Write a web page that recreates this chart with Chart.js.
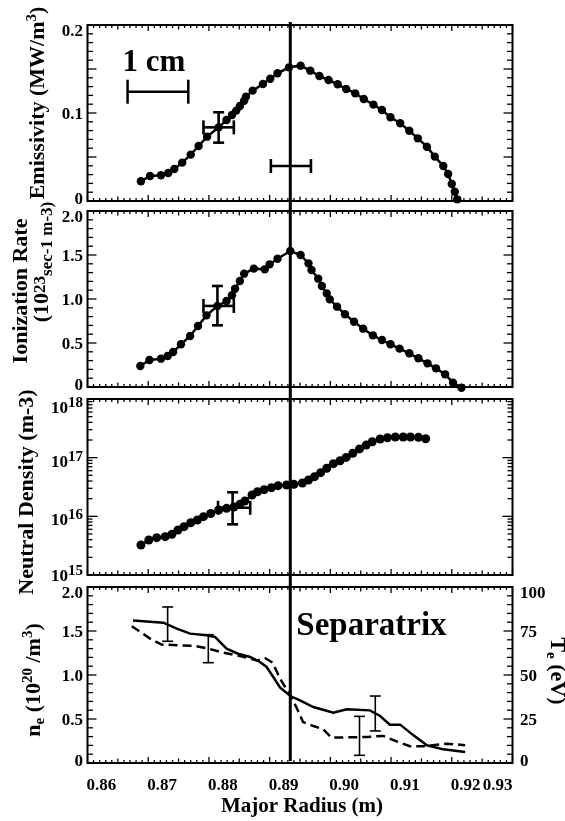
<!DOCTYPE html>
<html>
<head>
<meta charset="utf-8">
<title>Edge profiles vs major radius</title>
<script src="https://cdn.jsdelivr.net/npm/chart.js@4.4.1/dist/chart.umd.min.js"></script>
<style>
  html, body { margin: 0; padding: 0; background: #fff; }
  #page { position: relative; width: 565px; height: 821px; }
  #page canvas { position: absolute; left: 0; top: 0; }
</style>
</head>
<body>
<div id="page">
  <canvas id="emisChart" width="565" height="821"></canvas>
  <canvas id="ionChart" width="565" height="821"></canvas>
  <canvas id="neutralChart" width="565" height="821"></canvas>
  <canvas id="profileChart" width="565" height="821"></canvas>
</div>
<script>
// ---- Data ----
const SEPARATRIX = 0.8934;
const radiusTickValues = [0.86, 0.87, 0.88, 0.89, 0.90, 0.91, 0.92, 0.93];
const radiusTickLabels = ["0.86", "0.87", "0.88", "0.89", "0.90", "0.91", "0.92", "0.93"];

// Emissivity (MW/m3)
const emisRadius = [0.8688, 0.8703, 0.8721, 0.8733, 0.8743, 0.8756, 0.8770, 0.8783, 0.8797, 0.8816,
  0.8829, 0.8838, 0.8845, 0.8851, 0.8858, 0.8861, 0.8872, 0.8889, 0.8901, 0.8913,
  0.8932, 0.8951, 0.8967, 0.8982, 0.8997, 0.9012, 0.9026, 0.9041, 0.9055, 0.9071,
  0.9085, 0.9099, 0.9115, 0.9130, 0.9144, 0.9159, 0.9172, 0.9186, 0.9194, 0.9200,
  0.9205, 0.9209];
const emissivity = [0.0224, 0.0284, 0.0292, 0.0318, 0.0364, 0.0436, 0.0527, 0.0625, 0.0731, 0.0837,
  0.0920, 0.0977, 0.1027, 0.1080, 0.1140, 0.1186, 0.1254, 0.1330, 0.1390, 0.1451,
  0.1519, 0.1538, 0.1481, 0.1420, 0.1375, 0.1326, 0.1273, 0.1223, 0.1159, 0.1095,
  0.1034, 0.0951, 0.0883, 0.0799, 0.0712, 0.0617, 0.0504, 0.0398, 0.0307, 0.0193,
  0.0106, 0.0019];
const emisTickValues = [0, 0.1, 0.2];
const emisTickLabels = ["0", "0.1", "0.2"];
const emisErrorBars = [
  { x: 0.8816, y: 0.0837, xlo: 0.8791, xhi: 0.8841, ylo: 0.0663, yhi: 0.1008 },
  { x: 0.8935, y: 0.0398, xlo: 0.8902, xhi: 0.8968 }
];
const scaleBar = { from: 0.8666, to: 0.8766, y: 0.1242, text: "1 cm" };

// Ionization rate (1e23 /s /m3)
const ionRadius = [0.8687, 0.8702, 0.8721, 0.8732, 0.8741, 0.8754, 0.8769, 0.8782, 0.8796, 0.8814,
  0.8829, 0.8838, 0.8843, 0.8851, 0.8858, 0.8874, 0.8892, 0.8900, 0.8913, 0.8934,
  0.8951, 0.8964, 0.8969, 0.8980, 0.8986, 0.8994, 0.8999, 0.9011, 0.9024, 0.9039,
  0.9054, 0.9070, 0.9085, 0.9099, 0.9114, 0.9130, 0.9145, 0.9160, 0.9174, 0.9189,
  0.9202, 0.9216];
const ionRate = [0.239, 0.307, 0.322, 0.352, 0.398, 0.485, 0.580, 0.693, 0.814, 0.921,
  0.977, 1.042, 1.117, 1.205, 1.288, 1.345, 1.337, 1.394, 1.458, 1.545,
  1.500, 1.405, 1.330, 1.231, 1.148, 1.064, 0.996, 0.913, 0.826, 0.742,
  0.663, 0.587, 0.534, 0.485, 0.436, 0.383, 0.326, 0.269, 0.212, 0.144,
  0.049, -0.008];
const ionTickValues = [0, 0.5, 1.0, 1.5, 2.0];
const ionTickLabels = ["0", "0.5", "1.0", "1.5", "2.0"];
const ionErrorBars = [
  { x: 0.8814, y: 0.921, xlo: 0.8791, xhi: 0.8841, ylo: 0.701, yhi: 1.148 }
];

// Neutral density (m-3)
const neutralRadius = [0.8688, 0.8701, 0.8714, 0.8728, 0.8739, 0.8749, 0.8759, 0.8770, 0.8781, 0.8791,
  0.8803, 0.8816, 0.8829, 0.8841, 0.8851, 0.8859, 0.8871, 0.8880, 0.8891, 0.8903,
  0.8914, 0.8928, 0.8940, 0.8954, 0.8964, 0.8974, 0.8984, 0.8994, 0.9005, 0.9016,
  0.9026, 0.9037, 0.9048, 0.9059, 0.9069, 0.9082, 0.9094, 0.9107, 0.9120, 0.9132,
  0.9145, 0.9157];
const neutralDensity = [3.24e15, 3.95e15, 4.33e15, 4.50e15, 4.93e15, 5.85e15, 6.66e15, 7.79e15, 8.65e15, 9.86e15,
  1.12e16, 1.28e16, 1.37e16, 1.44e16, 1.60e16, 1.82e16, 2.31e16, 2.63e16, 2.85e16, 3.08e16,
  3.33e16, 3.42e16, 3.51e16, 3.70e16, 4.16e16, 4.74e16, 5.55e16, 6.59e16, 7.90e16, 8.88e16,
  1.01e17, 1.19e17, 1.41e17, 1.64e17, 1.87e17, 2.08e17, 2.19e17, 2.25e17, 2.25e17, 2.25e17,
  2.22e17, 2.10e17];
const neutralTickValues = [1e15, 1e16, 1e17, 1e18];
const neutralTickExponents = ["15", "16", "17", "18"];
const neutralErrorBars = [
  { x: 0.8839, y: 1.40e16, xlo: 0.8815, xhi: 0.8868, ylo: 7.31e15, yhi: 2.57e16 }
];

// Electron density (1e20 /m3) - solid, electron temperature (eV) - dashed
const neRadius = [0.8675, 0.8725, 0.8747, 0.8769, 0.8796, 0.8810, 0.8829, 0.8848, 0.8868, 0.8884,
  0.8895, 0.8906, 0.8917, 0.8934, 0.8950, 0.8972, 0.9005, 0.9027, 0.9065, 0.9082,
  0.9098, 0.9115, 0.9137, 0.9159, 0.9186, 0.9222];
const electronDensity = [1.620, 1.594, 1.526, 1.470, 1.451, 1.432, 1.299, 1.242, 1.205, 1.148,
  1.091, 0.977, 0.858, 0.761, 0.712, 0.636, 0.572, 0.610, 0.598, 0.534,
  0.436, 0.436, 0.314, 0.201, 0.155, 0.125];
const teRadius = [0.8673, 0.8687, 0.8703, 0.8722, 0.8752, 0.8777, 0.8799, 0.8824, 0.8851, 0.8879,
  0.8893, 0.8905, 0.8917, 0.8934, 0.8945, 0.8955, 0.8972, 0.8988, 0.9002, 0.9060,
  0.9087, 0.9109, 0.9131, 0.9153, 0.9192, 0.9222];
const electronTemp = [77.7, 74.5, 70.7, 67.3, 66.9, 66.5, 65.0, 62.7, 60.8, 58.3,
  59.5, 57.0, 48.0, 38.5, 31.0, 23.3, 21.0, 19.2, 14.4, 14.8,
  15.4, 12.3, 9.5, 9.5, 11.0, 10.1];
const neTickValues = [0, 0.5, 1.0, 1.5, 2.0];
const neTickLabels = ["0", "0.5", "1.0", "1.5", "2.0"];
const teTickValues = [0, 25, 50, 75, 100];
const teTickLabels = ["0", "25", "50", "75", "100"];
const neErrorBars = [
  { x: 0.8732, ylo: 1.383, yhi: 1.773 },
  { x: 0.9074, ylo: 0.364, yhi: 0.761 }
];
const teErrorBars = [
  { x: 0.8799, ylo: 57.0, yhi: 72.9, axis: "y2" },
  { x: 0.9048, ylo: 4.35, yhi: 26.5, axis: "y2" }
];

// ---- Drawing helpers ----
const SERIF = '"Liberation Serif", "Times New Roman", serif';
const font = (size) => `bold ${size}px ${SERIF}`;
const txt = (t, size, dy) => ({ t, size, dy: dy || 0 });

function seg(ctx, x1, y1, x2, y2) {
  ctx.beginPath();
  ctx.moveTo(x1, y1);
  ctx.lineTo(x2, y2);
  ctx.stroke();
}

function drawRich(ctx, parts, x, y, angle, align) {
  ctx.save();
  ctx.translate(x, y);
  ctx.rotate(angle || 0);
  ctx.textAlign = "left";
  ctx.textBaseline = "alphabetic";
  let w = 0;
  parts.forEach((p) => { ctx.font = font(p.size); w += ctx.measureText(p.t).width; });
  let cx = align === "center" ? -w / 2 : align === "right" ? -w : 0;
  parts.forEach((p) => {
    ctx.font = font(p.size);
    ctx.fillText(p.t, cx, p.dy);
    cx += ctx.measureText(p.t).width;
  });
  ctx.restore();
}

// tick marks for one vertical axis, pointing into the plot
function yMarks(scale, cfg) {
  const marks = [];
  if (cfg.log) {
    for (let d = cfg.from; d < cfg.to; d++) {
      for (let k = 1; k <= 9; k++) marks.push({ v: k * Math.pow(10, d), len: k === 1 ? 10 : 5 });
    }
    marks.push({ v: Math.pow(10, cfg.to), len: 10 });
  } else {
    const n = Math.round((scale.max - scale.min) / cfg.minor);
    for (let i = 0; i <= n; i++) {
      const v = scale.min + i * cfg.minor;
      const r = v / cfg.major;
      marks.push({ v, len: Math.abs(r - Math.round(r)) < 1e-6 ? 9 : 5.5 });
    }
  }
  return marks;
}

// frame, inward ticks, labels, error bars and notes
const paperPlugin = {
  id: "paper",
  afterDatasetsDraw(chart, args, o) {
    const ctx = chart.ctx;
    const a = chart.chartArea;
    const xs = chart.scales.x;
    const ys = chart.scales.y;
    ctx.save();
    ctx.strokeStyle = "#000";
    ctx.fillStyle = "#000";

    // separatrix line
    const sx = xs.getPixelForValue(SEPARATRIX);
    ctx.lineWidth = 3;
    seg(ctx, sx, o.sep[0], sx, o.sep[1]);

    // error bars
    (o.errorBars || []).forEach((b) => {
      const sc = chart.scales[b.axis || "y"];
      const cx = xs.getPixelForValue(b.x);
      ctx.lineWidth = o.barWidth;
      if (b.yhi !== undefined) {
        const t = sc.getPixelForValue(b.yhi);
        const bt = sc.getPixelForValue(b.ylo);
        seg(ctx, cx, t, cx, bt);
        seg(ctx, cx - o.cap, t, cx + o.cap, t);
        seg(ctx, cx - o.cap, bt, cx + o.cap, bt);
      }
      if (b.xhi !== undefined) {
        const cy = sc.getPixelForValue(b.y);
        const l = xs.getPixelForValue(b.xlo);
        const r = xs.getPixelForValue(b.xhi);
        seg(ctx, l, cy, r, cy);
        seg(ctx, l, cy - o.capH, l, cy + o.capH);
        seg(ctx, r, cy - o.capH, r, cy + o.capH);
      }
    });

    // 1 cm scale bar
    if (o.scaleBar) {
      const s = o.scaleBar;
      const l = xs.getPixelForValue(s.from);
      const r = xs.getPixelForValue(s.to);
      const y = ys.getPixelForValue(s.y);
      ctx.lineWidth = 2.5;
      seg(ctx, l, y, r, y);
      seg(ctx, l, y - 12, l, y + 12);
      seg(ctx, r, y - 12, r, y + 12);
      drawRich(ctx, [txt(s.text, 31)], l - 5, y - 21, 0, "left");
    }

    // frame
    ctx.lineWidth = 2;
    ctx.strokeRect(a.left, a.top, a.right - a.left, a.bottom - a.top);

    // x ticks on top and bottom edges
    ctx.lineWidth = 1.3;
    for (let i = 0; i <= 70; i++) {
      const px = xs.getPixelForValue(0.86 + i / 1000);
      const len = i % 10 === 0 ? 6 : i % 5 === 0 ? 4.5 : 3;
      seg(ctx, px, a.top, px, a.top + len);
      seg(ctx, px, a.bottom, px, a.bottom - len);
    }

    // y ticks, left (and right when no second axis)
    yMarks(ys, o.yTicks).forEach((m) => {
      const py = ys.getPixelForValue(m.v);
      seg(ctx, a.left, py, a.left + m.len, py);
      if (!o.y2Ticks) seg(ctx, a.right, py, a.right - m.len, py);
    });
    if (o.y2Ticks) {
      const y2 = chart.scales.y2;
      yMarks(y2, o.y2Ticks).forEach((m) => {
        const py = y2.getPixelForValue(m.v);
        seg(ctx, a.right, py, a.right - m.len, py);
      });
    }

    // tick labels
    const place = (py) => Math.min(Math.max(py, a.top + 5), a.bottom - 3) + 6;
    (o.yLabels || []).forEach((l) => {
      drawRich(ctx, l.parts, a.left - 4.5, place(ys.getPixelForValue(l.v)), 0, "right");
    });
    (o.y2Labels || []).forEach((l) => {
      drawRich(ctx, l.parts, a.right + 7.5, place(chart.scales.y2.getPixelForValue(l.v)), 0, "left");
    });
    if (o.xLabels) {
      radiusTickValues.forEach((v, i) => {
        const px = xs.getPixelForValue(v);
        const last = i === radiusTickValues.length - 1;
        drawRich(ctx, [txt(radiusTickLabels[i], 17)], last ? px : px - 1, a.bottom + 27, 0, last ? "right" : "left");
      });
    }

    // notes and axis titles
    (o.notes || []).forEach((n) => {
      const sc = chart.scales[n.axis || "y"];
      drawRich(ctx, n.parts, xs.getPixelForValue(n.x) + n.dx, sc.getPixelForValue(n.y), 0, "left");
    });
    (o.titles || []).forEach((t) => {
      drawRich(ctx, t.parts, t.x, t.y, t.angle, "center");
    });
    ctx.restore();
  }
};

const plainLabels = (values, labels) => values.map((v, i) => ({ v, parts: [txt(labels[i], 17)] }));
const toPoints = (xs, ys) => xs.map((x, i) => ({ x, y: ys[i] }));

function dotted(xs, ys, radius) {
  return {
    data: toPoints(xs, ys),
    showLine: true,
    borderColor: "#000",
    borderWidth: 2.5,
    pointRadius: radius,
    pointBackgroundColor: "#000",
    pointBorderWidth: 0,
    clip: false
  };
}

function panel(id, top, bottom, datasets, scales, paper) {
  return new Chart(document.getElementById(id), {
    type: "scatter",
    data: { datasets },
    options: {
      responsive: false,
      animation: false,
      events: [],
      layout: { padding: { left: 87.5, right: 52.5, top, bottom: 821 - bottom } },
      plugins: { legend: { display: false }, tooltip: { enabled: false }, paper },
      scales: Object.assign({
        x: { type: "linear", min: 0.86, max: 0.93, display: false }
      }, scales)
    },
    plugins: [paperPlugin]
  });
}

const UP = -Math.PI / 2;
const DOWN = Math.PI / 2;

// Panel 1: emissivity
panel("emisChart", 25, 201, [dotted(emisRadius, emissivity, 4.2)],
  { y: { type: "linear", min: 0, max: 0.2, display: false } },
  {
    sep: [22, 206],
    yTicks: { minor: 0.01, major: 0.05 },
    yLabels: plainLabels(emisTickValues, emisTickLabels),
    errorBars: emisErrorBars, barWidth: 2.6, cap: 5.5, capH: 7,
    scaleBar,
    titles: [
      { parts: [txt("Emissivity (MW/m", 22), txt("3", 15, -8), txt(")", 22)], x: 44, y: 103, angle: UP }
    ]
  });

// Panel 2: ionization rate
panel("ionChart", 211, 387, [dotted(ionRadius, ionRate, 4.2)],
  { y: { type: "linear", min: 0, max: 2, display: false } },
  {
    sep: [206, 393],
    yTicks: { minor: 0.1, major: 0.5 },
    yLabels: plainLabels(ionTickValues, ionTickLabels),
    errorBars: ionErrorBars, barWidth: 2.6, cap: 5.5, capH: 7,
    titles: [
      { parts: [txt("Ionization Rate", 22)], x: 27, y: 291, angle: UP },
      { parts: [txt("(10", 22), txt("23", 17, -3), txt("sec-1 m-3)", 17, 4)], x: 48, y: 262, angle: UP }
    ]
  });

// Panel 3: neutral density (log)
panel("neutralChart", 399, 575, [dotted(neutralRadius, neutralDensity, 4.5)],
  { y: { type: "logarithmic", min: 1e15, max: 1e18, display: false } },
  {
    sep: [393, 581],
    yTicks: { log: true, from: 15, to: 18 },
    yLabels: neutralTickValues.map((v, i) => ({ v, parts: [txt("10", 17, 3), txt(neutralTickExponents[i], 15, -3)] })),
    errorBars: neutralErrorBars, barWidth: 2.6, cap: 5.5, capH: 7,
    titles: [
      { parts: [txt("Neutral Density (m-3)", 22)], x: 33, y: 492, angle: UP }
    ]
  });

// Panel 4: electron density and temperature
panel("profileChart", 587, 763, [
  {
    data: toPoints(neRadius, electronDensity), yAxisID: "y", showLine: true,
    borderColor: "#000", borderWidth: 2.5, pointRadius: 0
  },
  {
    data: toPoints(teRadius, electronTemp), yAxisID: "y2", showLine: true,
    borderColor: "#000", borderWidth: 2.5, borderDash: [9, 5], pointRadius: 0
  }
], {
  y: { type: "linear", position: "left", min: 0, max: 2, display: false },
  y2: { type: "linear", position: "right", min: 0, max: 100, display: false }
}, {
  sep: [581, 761],
  yTicks: { minor: 0.1, major: 0.5 },
  y2Ticks: { minor: 5, major: 25 },
  yLabels: plainLabels(neTickValues, neTickLabels),
  y2Labels: plainLabels(teTickValues, teTickLabels),
  xLabels: true,
  errorBars: neErrorBars.concat(teErrorBars), barWidth: 1.6, cap: 5.5, capH: 5.5,
  notes: [{ parts: [txt("Separatrix", 33)], x: SEPARATRIX, dx: 6, y: 1.455 }],
  titles: [
    { parts: [txt("n", 22), txt("e", 15, 4), txt(" (10", 22), txt("20", 15, -8), txt(" /m", 22), txt("3", 15, -8), txt(")", 22)], x: 40, y: 680, angle: UP },
    { parts: [txt("T", 22), txt("e", 15, 4), txt(" (eV)", 22)], x: 551, y: 671, angle: DOWN },
    { parts: [txt("Major Radius (m)", 21)], x: 302, y: 812, angle: 0 }
  ]
});
</script>
</body>
</html>
